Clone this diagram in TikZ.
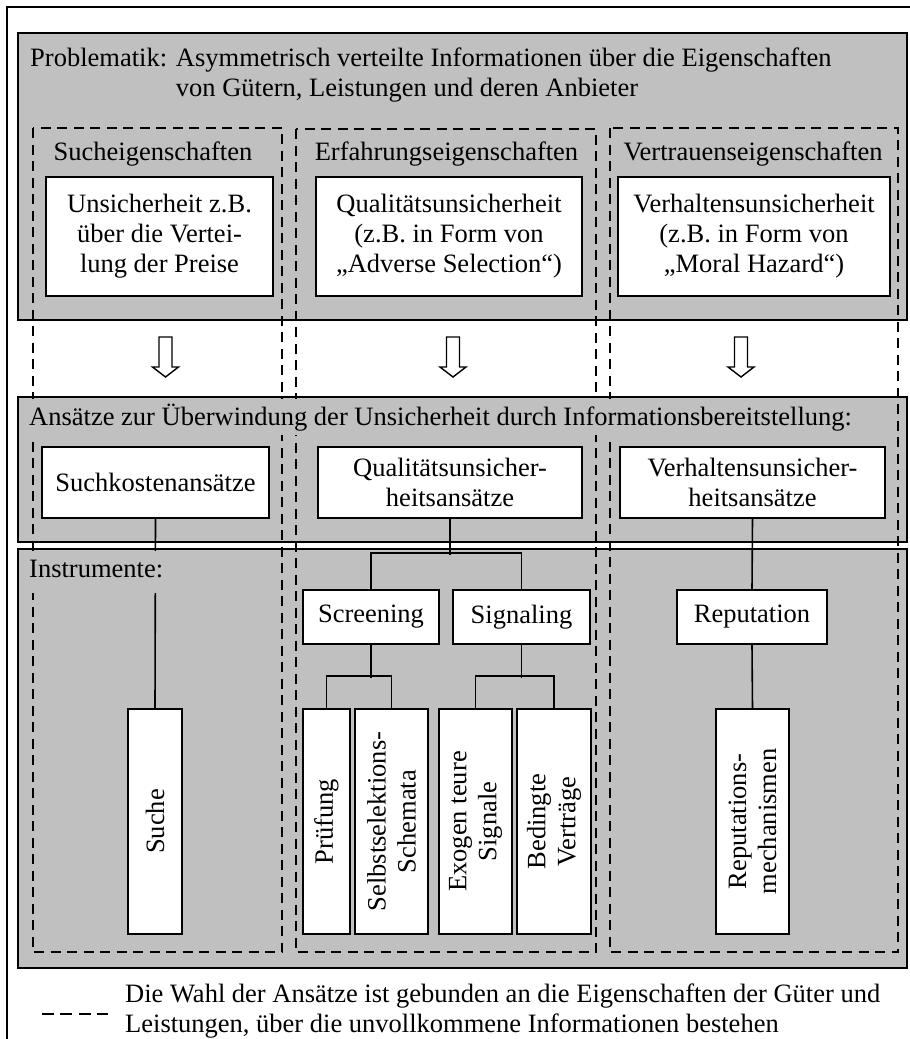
\documentclass[tikz,border=0pt]{standalone}
\usepackage{fontspec}
\setmainfont{Liberation Serif}
\usetikzlibrary{calc}
\definecolor{panelgray}{RGB}{192,192,192}
\tikzset{
  panel/.style={draw=black,fill=panelgray,line width=2pt},
  box/.style={
    draw=black,
    fill=white,
    line width=1.6pt,
    align=center,
    inner sep=0pt
  },
  vbox/.style={box,rotate=90,minimum width=225},
  link/.style={draw=black,line width=1.6pt},
  dashgroup/.style={draw=black,line width=2.2pt,dash pattern=on 10pt off 6.5pt},
  hollow/.style={draw=black,fill=white,line width=1.4pt,line join=miter},
  txt/.style={anchor=base west,inner sep=0pt},
  cover/.style={txt,fill=panelgray,text height=26pt},
  heading/.style={anchor=base,inner sep=0pt}
}
\newcommand{\boxnode}[4][]{%
  \node[box,#1] (#2) at (#3) {#4};%
}
\newcommand{\hollowdown}[1]{%
  \draw[hollow] ($(#1)+(-6.5,0)$) -- ++(13,0) -- ++(0,30) -- ++(6.5,0)
    -- ($(#1)+(0,40)$) -- ($(#1)+(-13,30)$) -- ++(6.5,0) -- cycle;%
}

\begin{document}
\begin{tikzpicture}[x=1pt,y=-1pt,font=\fontsize{26.5}{30}\selectfont]
  \useasboundingbox (0,0) rectangle (910,1039);
  \clip (0,0) rectangle (910,1039);
  % Outer frame, cut by the page on the right and at the bottom.
  \draw[line width=2pt] (7,1050) -- (7,7) -- (920,7);

  % Gray panels.
  \draw[panel] (18,33) rectangle (907,320);
  \draw[panel] (18,397) rectangle (907,542);
  \draw[panel] (18,549) rectangle (907,968);

  % Property groups.
  \draw[dashgroup] (33,128) rectangle (282,952);
  \draw[dashgroup] (296,129) rectangle (596,952);
  \draw[dashgroup] (610,128) rectangle (898,952);

  % Problem statement.
  \node[txt] (probl) at (30,66)
    {Problematik: \begin{tabular}[t]{@{}l@{}}Asymmetrisch verteilte Informationen über die Eigenschaften\\
     von Gütern, Leistungen und deren Anbieter\end{tabular}};
  \foreach \x/\name/\head in {
    153/hsuch/Sucheigenschaften,
    446.5/herf/Erfahrungseigenschaften,
    753/hver/Vertrauenseigenschaften
  } {
    \node[heading] (\name) at (\x,160) {\head};
  }
  \boxnode[minimum width=227,minimum height=119]{unsich}{159.5,236.5}
    {Unsicherheit z.B.\\über die Vertei-\\lung der Preise}
  \boxnode[minimum width=266,minimum height=119]{qualun}{449,236.5}
    {Qualitätsunsicherheit\\(z.B. in Form von\\„Adverse Selection“)}
  \boxnode[minimum width=272,minimum height=119]{verhun}{754,236.5}
    {Verhaltensunsicherheit\\(z.B. in Form von\\„Moral Hazard“)}

  % Block arrows between the panels.
  \foreach \x/\name in {165.5/arr1,453/arr2,741/arr3} {
    \coordinate (\name) at (\x,337);
    \hollowdown{\name}
  }

  % Approaches.
  \node[cover,text depth=10pt] (ansatz) at (29,425)
    {Ansätze zur Überwindung der Unsicherheit durch Informationsbereitstellung:};
  \boxnode[minimum width=227,minimum height=71]{suchk}{155.5,482.5}{Suchkostenansätze}
  \boxnode[minimum width=264,minimum height=71]{qualan}{450,482.5}{Qualitätsunsicher-\\heitsansätze}
  \boxnode[minimum width=265,minimum height=71]{verhan}{752.5,482.5}{Verhaltensunsicher-\\heitsansätze}

  % Instruments.
  \boxnode[minimum width=136,minimum height=54]{screen}{371,617}{Screening}
  \boxnode[minimum width=137,minimum height=54]{signal}{521.5,617}{Signaling}
  \boxnode[minimum width=150,minimum height=54]{reput}{752,617}{Reputation}
  \node[vbox,minimum height=54] (suche) at (155,821.5) {Suche};
  \node[vbox,minimum height=47] (pruef) at (326.5,821.5) {Prüfung};
  \node[vbox,minimum height=73] (selbst) at (391.5,821.5) {Selbstselektions-\\Schemata};
  \node[vbox,minimum height=73] (exogen) at (475.5,821.5) {Exogen teure\\Signale};
  \node[vbox,minimum height=74] (beding) at (554,821.5) {Bedingte\\Verträge};
  \node[vbox,minimum height=73] (repmech) at (752.5,821.5) {Reputations-\\mechanismen};

  % Connectors (top of a rotated box is its east anchor).
  \draw[link] (suchk.south) -- (suche.east);
  \draw[link] (qualan.south) -- ++(0,36);
  \draw[link] (screen.north) -- ++(0,-36) -| (signal.north);
  \draw[link] (screen.south) -- ++(0,33);
  \draw[link] (pruef.east) -- ++(0,-32) -| (selbst.east);
  \draw[link] (signal.south) -- ++(0,33);
  \draw[link] (exogen.east) -- ++(0,-32) -| (beding.east);
  \draw[link] (verhan.south) -- (reput.north);
  \draw[link] (reput.south) -- (repmech.east);
  \node[cover,text depth=16pt] (instr) at (29,577) {Instrumente:};

  % Legend.
  \coordinate (legl) at (42,1014);
  \coordinate (legr) at (108,1014);
  \draw[dashgroup,dash pattern=on 11.7pt off 6.7pt] (legl) -- (legr);
  \node[txt] (legend) at (125,1002)
    {\begin{tabular}[t]{@{}l@{}}Die Wahl der Ansätze ist gebunden an die Eigenschaften der Güter und\\
     Leistungen, über die unvollkommene Informationen bestehen\end{tabular}};
\end{tikzpicture}
\end{document}
